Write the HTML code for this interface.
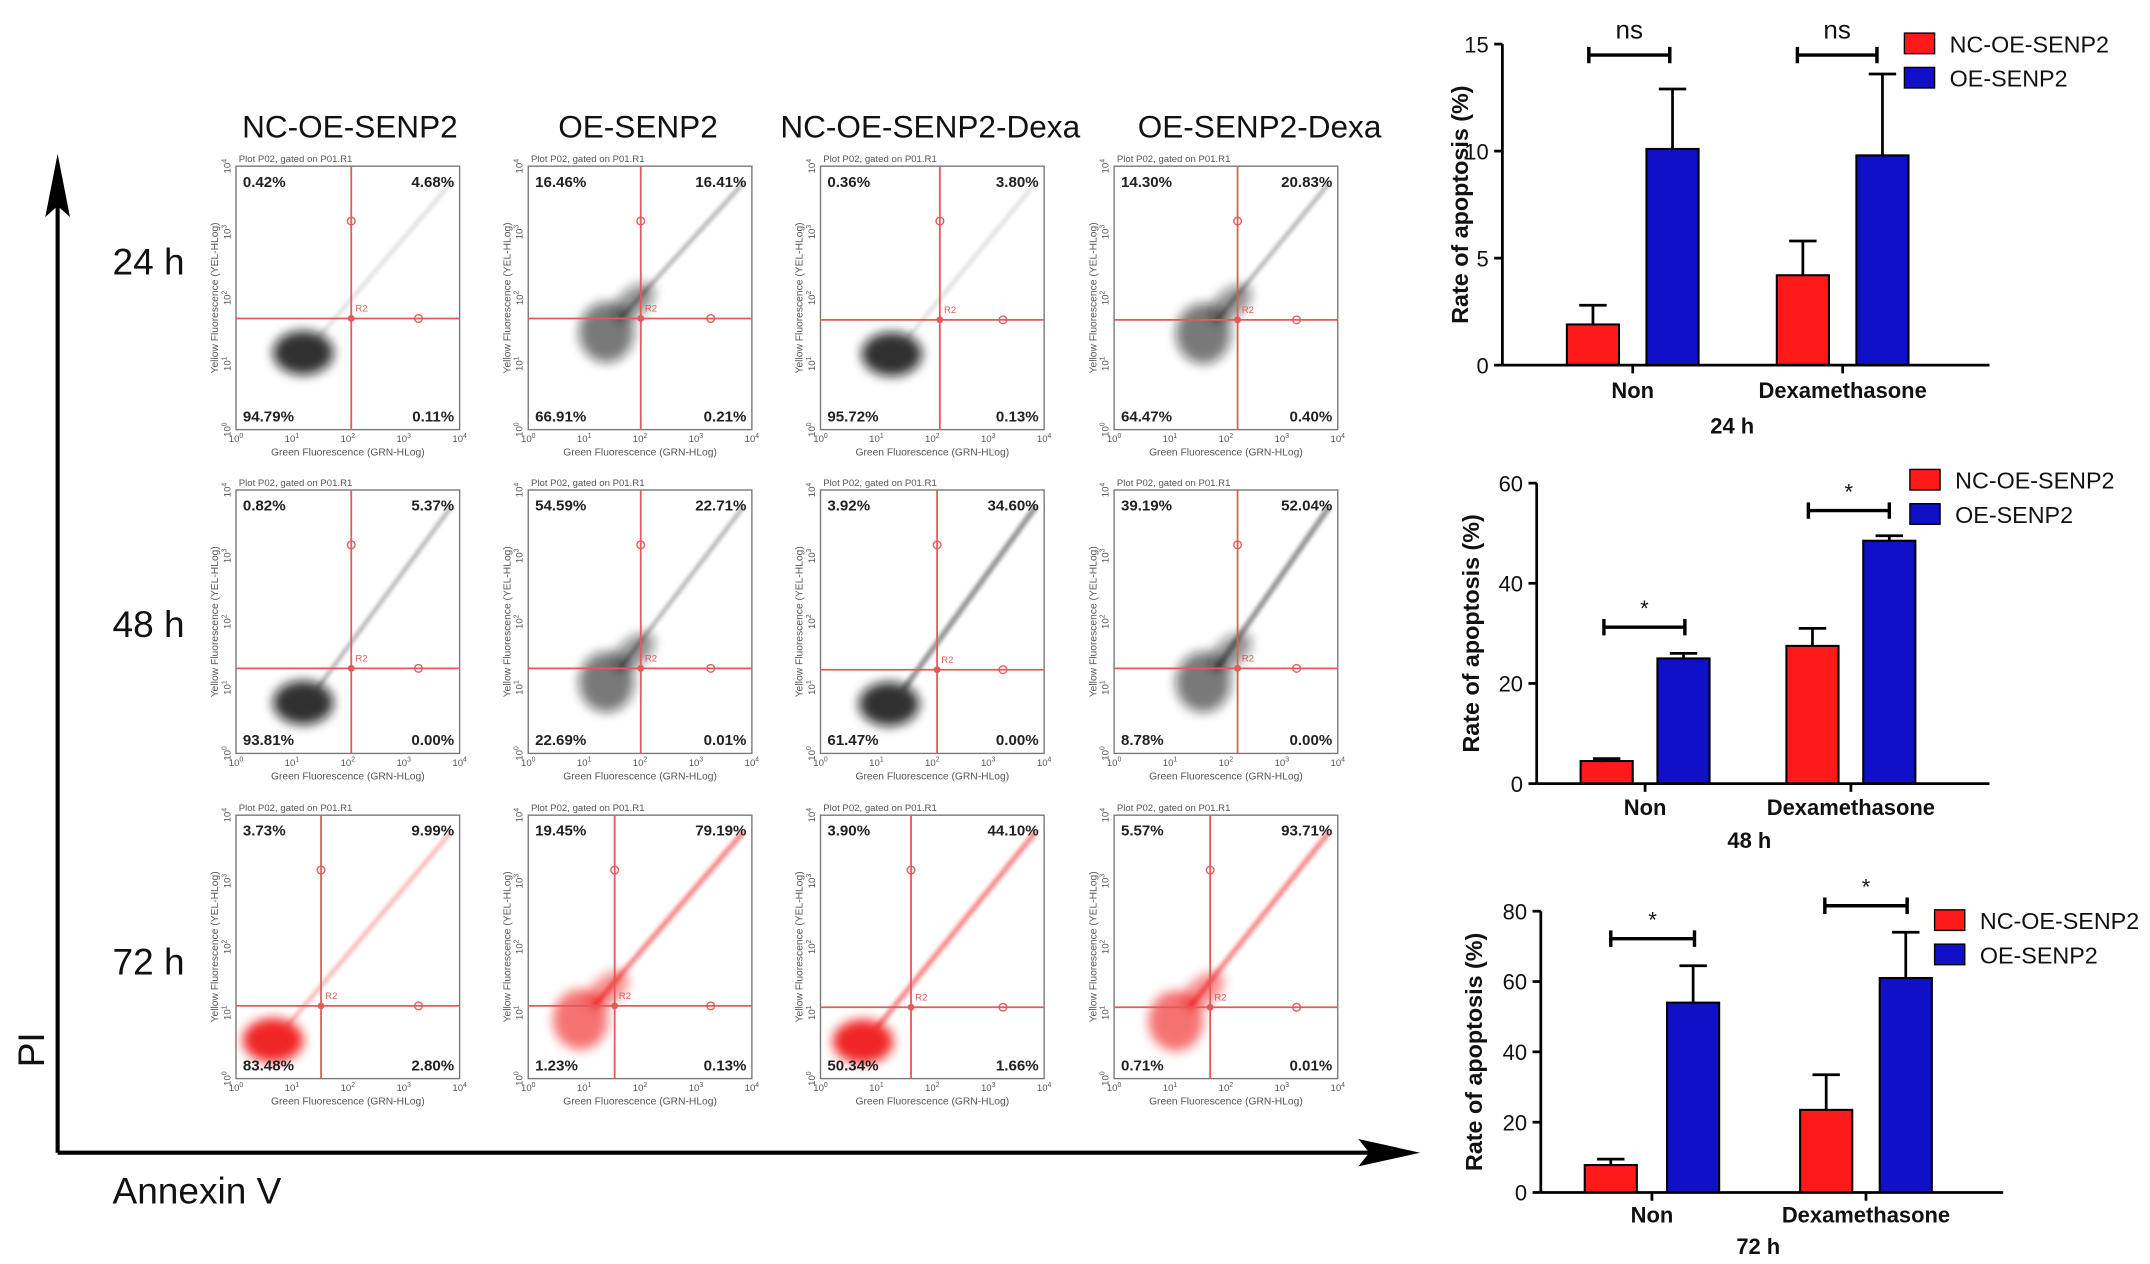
<!DOCTYPE html>
<html><head><meta charset="utf-8"><style>
html,body{margin:0;padding:0;background:#fff}
svg{display:block}
text{font-family:"Liberation Sans",Arial,sans-serif}
</style></head><body>
<svg id="root" width="2150" height="1264" viewBox="0 0 1567 921" xmlns="http://www.w3.org/2000/svg">
<defs>
<filter id="blur2" x="-50%" y="-50%" width="200%" height="200%"><feGaussianBlur stdDeviation="4"/></filter>
<filter id="blur1" x="-50%" y="-50%" width="200%" height="200%"><feGaussianBlur stdDeviation="1.5"/></filter>
</defs>
<g id="flow"></g>
<g id="bars"></g>
</svg>
<script>
// ---- bar chart data ----
const groups = ["Non", "Dexamethasone"];
const seriesNames = ["NC-OE-SENP2", "OE-SENP2"];
const vals24 = [[1.9, 10.1], [4.2, 9.8]];
const errs24 = [[0.9, 2.8], [1.6, 3.8]];
const vals48 = [[4.5, 25], [27.5, 48.5]];
const errs48 = [[0.5, 1], [3.5, 1]];
const vals72 = [[7.8, 54], [23.5, 61]];
const errs72 = [[1.7, 10.5], [10, 13]];
const ticks24 = [0, 5, 10, 15];
const ticks48 = [0, 20, 40, 60];
const ticks72 = [0, 20, 40, 60, 80];
const sig24 = ["ns", "ns"];
const sig48 = ["*", "*"];
const sig72 = ["*", "*"];

// ---- flow data ----
const colTitles = ["NC-OE-SENP2", "OE-SENP2", "NC-OE-SENP2-Dexa", "OE-SENP2-Dexa"];
const rowTitles = ["24 h", "48 h", "72 h"];
const pct = [
 [["0.42%","4.68%","94.79%","0.11%"],["16.46%","16.41%","66.91%","0.21%"],["0.36%","3.80%","95.72%","0.13%"],["14.30%","20.83%","64.47%","0.40%"]],
 [["0.82%","5.37%","93.81%","0.00%"],["54.59%","22.71%","22.69%","0.01%"],["3.92%","34.60%","61.47%","0.00%"],["39.19%","52.04%","8.78%","0.00%"]],
 [["3.73%","9.99%","83.48%","2.80%"],["19.45%","79.19%","1.23%","0.13%"],["3.90%","44.10%","50.34%","1.66%"],["5.57%","93.71%","0.71%","0.01%"]]
];

const NS="http://www.w3.org/2000/svg";
function el(parent, tag, attrs, txt){const e=document.createElementNS(NS,tag);for(const k in attrs)e.setAttribute(k,attrs[k]);if(txt!==undefined)e.textContent=txt;parent.appendChild(e);return e;}

const flow=document.getElementById('flow');
const colX=[172,385,598,812], rowY=[121,357,594], W=163, H=192;
const colCx=[255,465,678,918];
colTitles.forEach((t,i)=>{const e=el(flow,'text',{x:colCx[i],y:100,'font-size':23,'text-anchor':'middle',fill:'#111'},t);

});
const rowLy=[200,464,710];
rowTitles.forEach((t,i)=>{const e=el(flow,'text',{x:82,y:rowLy[i],'font-size':27,fill:'#111'},t);

});
let a=el(flow,'path',{d:'M42,840 L42,128',stroke:'#000','stroke-width':3,fill:'none'});

a=el(flow,'path',{d:'M42,112 L33,158 L42,150 L51,158 Z',fill:'#000'});

a=el(flow,'path',{d:'M42,840 L1015,840',stroke:'#000','stroke-width':3,fill:'none'});

a=el(flow,'path',{d:'M1035,840 L990,830 L998,840 L990,850 Z',fill:'#000'});

a=el(flow,'text',{x:32,y:765,'font-size':27,transform:'rotate(-90 32 765)','text-anchor':'middle',fill:'#111'},'PI');

a=el(flow,'text',{x:82,y:877,'font-size':27,fill:'#111'},'Annexin V');


const vxs=[[256,467,685,902],[256,467,683,902],[234,448,664,882]];
const hys=[[232,232,233,233],[487,487,488,487],[733,733,734,734]];
function pow10(g,attrs,k){const t=el(g,'text',attrs,'10');const s=el(t,'tspan',{dy:-3,'font-size':5},String(k));return t;}
for(let r=0;r<3;r++)for(let c=0;c<4;c++){
 const x0=colX[c],y0=rowY[r],vx=vxs[r][c],hy=hys[r][c];
 const g=el(flow,'g',{});
 
 
 const col=r===2?'#e00':'#111';
 const heavy=(c===1||c===3)?1:0;
 const bx=heavy?vx-25:vx-35, by=heavy?hy+10:hy+25;
 el(g,'ellipse',{cx:bx,cy:by,rx:heavy?20:22,ry:heavy?22:16,fill:col,opacity:heavy?0.55:0.85,filter:'url(#blur2)'});
 if(heavy) el(g,'ellipse',{cx:vx-5,cy:hy-12,rx:18,ry:10,fill:col,opacity:0.45,filter:'url(#blur2)',transform:`rotate(-40 ${vx-5} ${hy-12})`});
 const sw=(r>0&&c>=2)||(r===2&&c===1)?3:1.5;
 const op=(r===0&&c%2===0)?0.25:0.6;
 el(g,'path',{d:`M${bx+10},${by-10} L${x0+W-6},${y0+12}`,stroke:col,'stroke-width':sw,opacity:op,filter:'url(#blur1)'});
 el(g,'rect',{x:x0,y:y0,width:W,height:H,fill:'none',stroke:'#777','stroke-width':1});
 el(g,'line',{x1:vx,y1:y0,x2:vx,y2:y0+H,stroke:'#e25a5a','stroke-width':1.3});
 el(g,'line',{x1:x0,y1:hy,x2:x0+W,y2:hy,stroke:'#e25a5a','stroke-width':1.3});
 el(g,'circle',{cx:vx,cy:y0+40,r:2.8,fill:'none',stroke:'#e25a5a'});
 el(g,'circle',{cx:x0+W-30,cy:hy,r:2.8,fill:'none',stroke:'#e25a5a'});
 el(g,'circle',{cx:vx,cy:hy,r:2.5,fill:'#e25a5a'});
 el(g,'text',{x:vx+3,y:hy-5,'font-size':7,fill:'#e25a5a'},'R2');
 el(g,'text',{x:x0+2,y:y0-3,'font-size':7,fill:'#555'},'Plot P02, gated on P01.R1');
 const p=pct[r][c];
 el(g,'text',{x:x0+5,y:y0+15,'font-size':11,'font-weight':'bold',fill:'#222'},p[0]);
 el(g,'text',{x:x0+W-4,y:y0+15,'font-size':11,'font-weight':'bold',fill:'#222','text-anchor':'end'},p[1]);
 el(g,'text',{x:x0+5,y:y0+H-6,'font-size':11,'font-weight':'bold',fill:'#222'},p[2]);
 el(g,'text',{x:x0+W-4,y:y0+H-6,'font-size':11,'font-weight':'bold',fill:'#222','text-anchor':'end'},p[3]);
 for(let k=0;k<5;k++){
  pow10(g,{x:x0+k*W/4,y:y0+H+9,'font-size':7,fill:'#555','text-anchor':'middle'},k);
  pow10(g,{x:x0-4,y:y0+H-k*H/4,'font-size':7,fill:'#555','text-anchor':'middle',transform:`rotate(-90 ${x0-4} ${y0+H-k*H/4})`},k);
 }
 el(g,'text',{x:x0+W/2,y:y0+H+19,'font-size':7.5,fill:'#555','text-anchor':'middle'},'Green Fluorescence (GRN-HLog)');
 el(g,'text',{x:x0-13,y:y0+H/2,'font-size':7.5,fill:'#555','text-anchor':'middle',transform:`rotate(-90 ${x0-13} ${y0+H/2})`},'Yellow Fluorescence (YEL-HLog)');
}

const bars=document.getElementById('bars');
const charts=[
 {vals:vals24,errs:errs24,ticks:ticks24,sig:sig24,ax:1095,y0:266,ytop:32,max:15,xend:1450,bx:[[1142,1200],[1295,1353]],lab:'24 h',catY:290,labY:316,legX:1388,legY:24,sigY:[40,40],sigX:[[1158,1217],[1310,1368]],ylx:1070},
 {vals:vals48,errs:errs48,ticks:ticks48,sig:sig48,ax:1120,y0:571,ytop:352,max:60,xend:1450,bx:[[1152,1208],[1302,1358]],lab:'48 h',catY:594,labY:618,legX:1392,legY:342,sigY:[457,372],sigX:[[1169,1228],[1318,1377]],ylx:1078},
 {vals:vals72,errs:errs72,ticks:ticks72,sig:sig72,ax:1123,y0:869,ytop:664,max:80,xend:1460,bx:[[1155,1215],[1312,1370]],lab:'72 h',catY:891,labY:914,legX:1410,legY:663,sigY:[684,660],sigX:[[1174,1235],[1330,1390]],ylx:1080}
];
const colors=['#ff1a1a','#1010c8'];
charts.forEach((ch,ci)=>{
 const g=el(bars,'g',{});
 
 
 const ys=v=>ch.y0-(v/ch.max)*(ch.y0-ch.ytop);
 const bw=38;
 ch.vals.forEach((gv,gi)=>gv.forEach((v,si)=>{
  const x=ch.bx[gi][si], y=ys(v), e=ys(v+ch.errs[gi][si]);
  const ln=el(g,'line',{x1:x+bw/2,y1:y,x2:x+bw/2,y2:e,stroke:'#000','stroke-width':2});
  
  const cap=el(g,'line',{x1:x+bw/2-10,y1:e,x2:x+bw/2+10,y2:e,stroke:'#000','stroke-width':2});
  
  const b=el(g,'rect',{x:x,y:y,width:bw,height:ch.y0-y,fill:colors[si],stroke:'#000','stroke-width':1.5});
  
  
 }));
 el(g,'line',{x1:ch.ax,y1:ch.ytop,x2:ch.ax,y2:ch.y0,stroke:'#000','stroke-width':2});
 el(g,'line',{x1:ch.ax,y1:ch.y0,x2:ch.xend,y2:ch.y0,stroke:'#000','stroke-width':2});
 ch.ticks.forEach(t=>{
  el(g,'line',{x1:ch.ax-6,y1:ys(t),x2:ch.ax,y2:ys(t),stroke:'#000','stroke-width':2});
  const tl=el(g,'text',{x:ch.ax-10,y:ys(t)+6,'font-size':16,'text-anchor':'end',fill:'#111'},t);
  
 });
 groups.forEach((gn,gi)=>{
  const cx=(ch.bx[gi][0]+ch.bx[gi][1]+bw)/2;
  el(g,'line',{x1:cx,y1:ch.y0,x2:cx,y2:ch.y0+6,stroke:'#000','stroke-width':2});
  const t=el(g,'text',{x:cx,y:ch.catY,'font-size':16,'font-weight':'bold','text-anchor':'middle',fill:'#111'},gn);
  
  const sx=ch.sigX[gi], sy=ch.sigY[gi];
  el(g,'path',{d:`M${sx[0]},${sy-6} L${sx[0]},${sy+6} M${sx[0]},${sy} L${sx[1]},${sy} M${sx[1]},${sy-6} L${sx[1]},${sy+6}`,stroke:'#000','stroke-width':2.5,fill:'none'});
  const st=el(g,'text',{x:(sx[0]+sx[1])/2,y:ch.sig[gi]==='ns'?sy-12:sy-8,'font-size':ch.sig[gi]==='ns'?19:16,'text-anchor':'middle',fill:'#111'},ch.sig[gi]);
  
 });
 const lt=el(g,'text',{x:(ch.ax+ch.xend)/2-10,y:ch.labY,'font-size':16,'font-weight':'bold','text-anchor':'middle',fill:'#111'},ch.lab);
 
 const cy=(ch.y0+ch.ytop)/2;
 const yl=el(g,'text',{x:ch.ylx,y:cy,'font-size':17,'font-weight':'bold','text-anchor':'middle',fill:'#111',transform:`rotate(-90 ${ch.ylx} ${cy})`},'Rate of apoptosis (%)');
 
 seriesNames.forEach((sn,si)=>{
  const ly=ch.legY+si*25;
  const r=el(g,'rect',{x:ch.legX,y:ly,width:22,height:15,fill:colors[si],stroke:'#000','stroke-width':1});
  
  const t=el(g,'text',{x:ch.legX+33,y:ly+14,'font-size':17,fill:'#111'},sn);
  
 });
});
</script>
</body></html>
